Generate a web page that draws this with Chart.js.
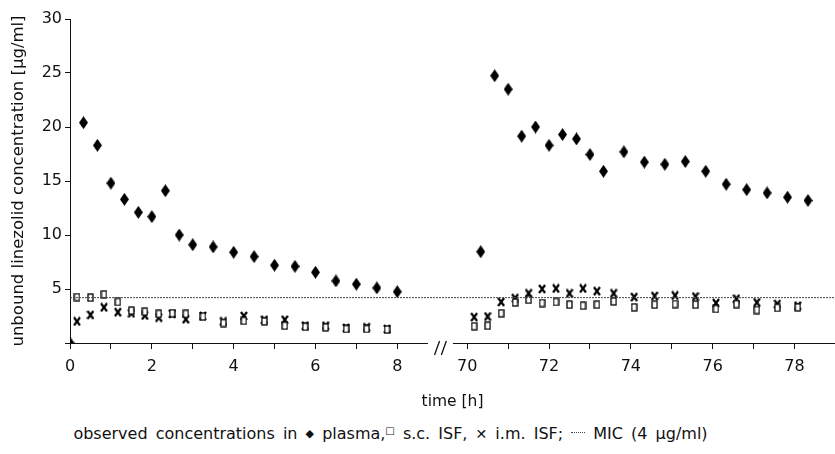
<!DOCTYPE html>
<html>
<head>
<meta charset="utf-8">
<script src="https://cdn.jsdelivr.net/npm/chart.js@4.4.0/dist/chart.umd.min.js"></script>
<style>
body{margin:0;background:#fff;width:835px;height:454px;overflow:hidden;position:relative;font-family:"DejaVu Sans",sans-serif;}
#wrap{position:absolute;left:0;top:0;width:840px;height:420px;}
#legend{position:absolute;left:-27px;top:424px;width:835px;text-align:center;font-size:16px;word-spacing:3px;color:#111;white-space:nowrap;}
#legend .dia{font-size:11px;vertical-align:2px;}
#legend .sq{font-size:10px;vertical-align:5px;}
#legend .ex{font-weight:bold;font-size:14px;}
#legend .mic{display:inline-block;width:14px;border-top:1px dotted #444;vertical-align:6px;}
</style>
</head>
<body>
<div id="wrap"><canvas id="myChart"></canvas></div>
<div id="legend">observed concentrations in <span class="dia">◆</span> plasma,<span class="sq">□</span> s.c. ISF, <span class="ex">✕</span> i.m. ISF; <span class="mic"></span> MIC (4 µg/ml)</div>
<script>
// plasma, first dose and steady state
const plasmaTime = [0, 0.33, 0.67, 1, 1.33, 1.67, 2, 2.33, 2.67, 3, 3.5, 4, 4.5, 5, 5.5, 6, 6.5, 7, 7.5, 8,
  70.33, 70.67, 71, 71.33, 71.67, 72, 72.33, 72.67, 73, 73.33, 73.83, 74.33, 74.83, 75.33, 75.83, 76.33, 76.83, 77.33, 77.83, 78.33]
const plasma = [0, 20.4, 18.3, 14.8, 13.3, 12.1, 11.7, 14.1, 10.0, 9.1, 8.9, 8.4, 8.0, 7.2, 7.1, 6.55, 5.75, 5.45, 5.1, 4.75,
  8.45, 24.75, 23.5, 19.15, 20.0, 18.3, 19.3, 18.9, 17.45, 15.9, 17.7, 16.75, 16.55, 16.8, 15.9, 14.7, 14.2, 13.9, 13.5, 13.2]

// interstitial fluid
const isfTime = [0.17, 0.5, 0.83, 1.17, 1.5, 1.83, 2.17, 2.5, 2.83, 3.25, 3.75, 4.25, 4.75, 5.25, 5.75, 6.25, 6.75, 7.25, 7.75,
  70.17, 70.5, 70.83, 71.17, 71.5, 71.83, 72.17, 72.5, 72.83, 73.17, 73.58, 74.08, 74.58, 75.08, 75.58, 76.08, 76.58, 77.08, 77.58, 78.08]
const scISF = [4.25, 4.2, 4.5, 3.8, 3.0, 2.9, 2.7, 2.75, 2.7, 2.45, 1.85, 2.05, 2.0, 1.6, 1.5, 1.45, 1.3, 1.3, 1.25,
  1.55, 1.6, 2.75, 3.75, 4.0, 3.7, 3.8, 3.55, 3.45, 3.55, 3.85, 3.3, 3.55, 3.6, 3.55, 3.15, 3.6, 3.05, 3.25, 3.3]
const imISF = [2.0, 2.6, 3.3, 2.85, 2.75, 2.55, 2.35, 2.7, 2.2, 2.5, 2.0, 2.5, 2.15, 2.15, 1.6, 1.6, 1.4, 1.45, 1.3,
  2.4, 2.45, 3.8, 4.15, 4.6, 5.0, 5.05, 4.6, 5.05, 4.8, 4.6, 4.25, 4.35, 4.4, 4.3, 3.7, 4.1, 3.75, 3.6, 3.45]

const mic = 4.2
const xTicks = [0, 1, 2, 3, 4, 5, 6, 7, 8, 70, 71, 72, 73, 74, 75, 76, 77, 78]
const yTicks = [0, 5, 10, 15, 20, 25, 30]

// broken time axis: 0-8 h, then 70-79 h
const SHIFT = 60.29
const pos = t => t < 30 ? t : t - SHIFT
const back = p => p < 9 ? p : p + SHIFT

const pts = (ts, vs) => ts.map((t, i) => ({x: pos(t), y: vs[i]}))

function mark(w, h, draw) {
  const c = document.createElement('canvas')
  c.width = w; c.height = h
  draw(c.getContext('2d'), w, h)
  return c
}
const diamond = mark(9, 13, (g, w, h) => {
  g.fillStyle = '#000'
  g.beginPath(); g.moveTo(w/2, 0); g.lineTo(w, h/2); g.lineTo(w/2, h); g.lineTo(0, h/2); g.closePath(); g.fill()
})
const square = mark(7, 9, (g) => {
  g.fillStyle = '#fff'; g.fillRect(1, 1, 5, 7)
  g.strokeStyle = '#000'; g.lineWidth = 1.3; g.strokeRect(1, 1, 5, 7)
})
const cross = mark(8, 10, (g) => {
  g.strokeStyle = '#000'; g.lineWidth = 2.2
  g.beginPath(); g.moveTo(1, 1); g.lineTo(7, 9); g.moveTo(7, 1); g.lineTo(1, 9); g.stroke()
})

// white gap + "//" on the time axis
const axisBreak = {
  id: 'axisBreak',
  afterDraw(chart) {
    const xs = chart.scales.x, ctx = chart.ctx
    const y = chart.chartArea.bottom
    const a = xs.getPixelForValue(8.75), b = xs.getPixelForValue(9.36)
    const m = (a + b) / 2
    ctx.save()
    ctx.fillStyle = '#fff'
    ctx.fillRect(a, y - 2, b - a, 4)
    ctx.strokeStyle = '#111'; ctx.lineWidth = 1.3
    ;[m - 3.4, m + 3.4].forEach(c => {
      ctx.beginPath(); ctx.moveTo(c - 2.5, y + 12); ctx.lineTo(c + 2.5, y - 2); ctx.stroke()
    })
    ctx.restore()
  }
}

const font = {family: 'DejaVu Sans', size: 16}
const $ctx = document.getElementById('myChart').getContext('2d')

new Chart($ctx, {
  type: 'scatter',
  data: {
    datasets: [
      {
        type: 'line', label: 'MIC', data: [{x: 0, y: mic}, {x: 18.7, y: mic}],
        borderColor: '#444', borderWidth: 1, borderDash: [2, 1], pointRadius: 0
      },
      {label: 's.c. ISF', data: pts(isfTime, scISF), pointStyle: square},
      {label: 'i.m. ISF', data: pts(isfTime, imISF), pointStyle: cross},
      {label: 'plasma', data: pts(plasmaTime, plasma), pointStyle: diamond}
    ]
  },
  options: {
    responsive: true,
    maintainAspectRatio: false,
    animation: false,
    layout: {padding: {top: 19, right: 0, bottom: 0, left: 0}},
    plugins: {legend: {display: false}, tooltip: {enabled: false}},
    scales: {
      x: {
        type: 'linear', min: 0, max: 18.7,
        afterBuildTicks: s => { s.ticks = xTicks.map(t => ({value: pos(t)})) },
        afterFit: s => { s.height = 77; s.paddingLeft = 0; s.paddingRight = 0 },
        border: {color: '#111', width: 1},
        grid: {drawOnChartArea: false, drawTicks: true, tickLength: 6, color: '#111'},
        ticks: {
          autoSkip: false, maxRotation: 0, padding: 8, color: '#111', font: font,
          callback: v => { const t = Math.round(back(v)); return t % 2 === 0 ? String(t) : '' }
        },
        title: {display: true, text: 'time [h]', color: '#111', font: {family: 'DejaVu Sans', size: 15.5}, padding: {top: 0, bottom: 9}}
      },
      y: {
        min: 0, max: 30,
        afterBuildTicks: s => { s.ticks = yTicks.map(v => ({value: v})) },
        afterFit: s => { s.width = 70 },
        border: {color: '#111', width: 1},
        grid: {drawOnChartArea: false, drawTicks: true, tickLength: 5, color: '#111'},
        ticks: {padding: 3, color: '#111', font: font, callback: v => v === 0 ? '' : String(v)},
        title: {display: true, text: 'unbound linezolid concentration [µg/ml]', color: '#111', font: {family: 'DejaVu Sans', size: 16.5}, padding: {top: 9, bottom: 0}}
      }
    }
  },
  plugins: [axisBreak]
})
</script>
</body>
</html>
